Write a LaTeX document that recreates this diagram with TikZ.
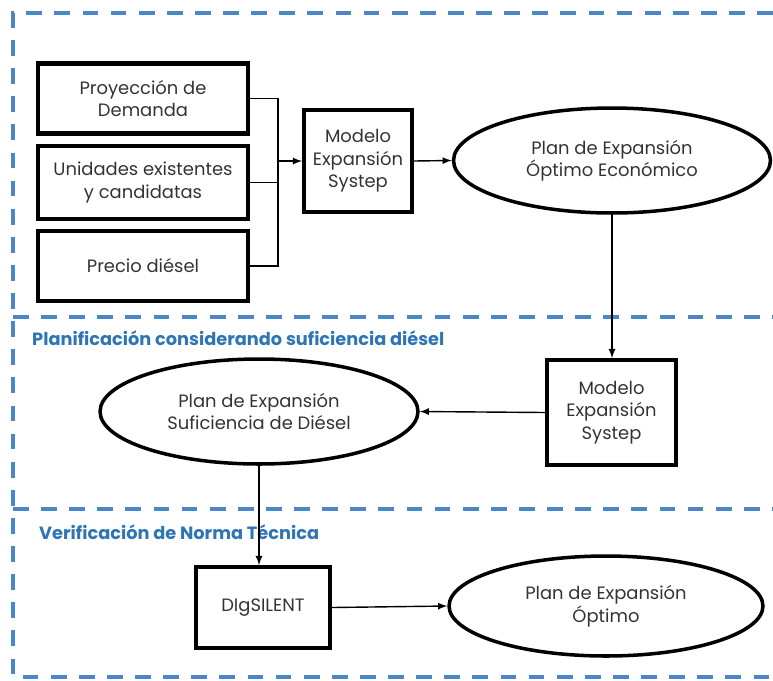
\documentclass[tikz,border=0pt]{standalone}
\usepackage{fontspec}
\setmainfont{Poppins}
\usetikzlibrary{shapes.geometric}

\definecolor{zonablue}{HTML}{4A86C8}
\definecolor{titleblue}{HTML}{2E75B6}
\definecolor{textgray}{HTML}{333333}

\tikzset{
  zona/.style={draw=zonablue, line width=2pt, dash pattern=on 9pt off 7pt},
  entrada/.style={draw, line width=2.8pt, minimum width=4.2cm, minimum height=1.4cm,
    align=center, text=textgray, font=\fontsize{10.2}{12.8}\selectfont},
  modelo/.style={draw, line width=2.2pt, minimum height=2.05cm, inner sep=0pt,
    align=center, text=textgray, font=\fontsize{10.2}{12.8}\selectfont},
  plan/.style={ellipse, draw, line width=2pt, minimum width=6.34cm, minimum height=2.1cm,
    align=center, text=textgray, font=\fontsize{10.2}{12.8}\selectfont},
  zonatitulo/.style={anchor=west, text=titleblue, font=\bfseries\fontsize{10.1}{12}\selectfont},
  flujo/.style={line width=0.8pt, -latex}
}

\begin{document}
\begin{tikzpicture}[x=0.02cm, y=-0.02cm]
  \useasboundingbox (0,0) rectangle (773,680);

  % zonas
  \draw[zona] (773,13) -- (13,13) -- (13,677) -- (773,677);
  \draw[zona] (13,317) -- (773,317);
  \draw[zona] (13,509) -- (773,509);

  \node[zonatitulo] (tplan) at (26,338) {Planificación considerando suficiencia diésel};
  \node[zonatitulo] (tverif) at (33,532) {Verificación de Norma Técnica};

  % entradas
  \node[entrada] (proy) at (143,98.5) {Proyección de\\Demanda};
  \node[entrada, minimum height=1.46cm] (unid) at (143,182.5) {Unidades existentes\\y candidatas};
  \node[entrada] (precio) at (143,266) {Precio diésel};

  \node[modelo, minimum width=2.16cm] (modelo1) at (358,161) {Modelo\\Expansión\\Systep};
  \node[plan] (economico) at (612,160.5) {Plan de Expansión\\Óptimo Económico};

  \node[modelo, minimum width=2.58cm, minimum height=2.1cm] (modelo2) at (611.5,412.5) {Modelo\\Expansión\\Systep};
  \node[plan, minimum width=6.36cm] (suficiencia) at (259,411.5) {Plan de Expansión\\Suficiencia de Diésel};

  \node[modelo, minimum width=2.68cm, minimum height=1.62cm] (dig) at (263,607.5) {DIgSILENT};
  \node[plan, minimum width=6.28cm, minimum height=2cm] (optimo) at (606,606) {Plan de Expansión\\Óptimo};

  % conexiones
  \coordinate (bus) at (278,161);
  \draw[line width=0.8pt] (proy.east) -| (bus) |- (precio.east);
  \draw[line width=0.8pt] (unid.east) -- (unid.east -| bus);
  \draw[flujo] (bus) -- (modelo1.west);
  \draw[flujo] (modelo1.east) -- (economico.west);
  \draw[flujo] (economico.south) -- (economico.south |- modelo2.north);
  \draw[flujo] (modelo2.west) -- (suficiencia.east);
  \draw[flujo] (suficiencia.south) -- (suficiencia.south |- dig.north);
  \draw[flujo] (dig.east) -- (optimo.west);

\end{tikzpicture}
\end{document}
